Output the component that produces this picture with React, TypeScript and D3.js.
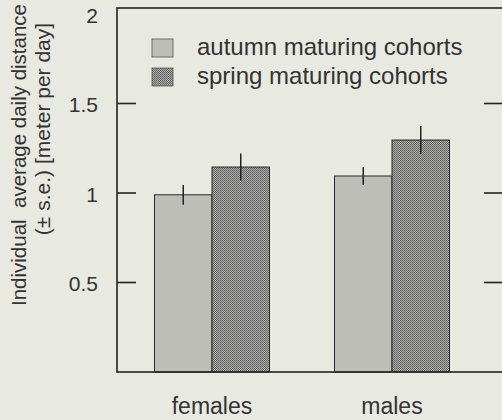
import React from "react";
import * as d3 from "d3";

const categories = ["females", "males"];
const seriesNames = ["autumn maturing cohorts", "spring maturing cohorts"];
const autumnMeans = [0.99, 1.095];
const autumnSE = [0.055, 0.05];
const springMeans = [1.145, 1.296];
const springSE = [0.075, 0.078];
const yTicks = [0.5, 1, 1.5];
const yTickLabels = ["0.5", "1", "1.5", "2"];
const yLabelValues = [0.5, 1, 1.5, 2];

const W = 502;
const H = 420;
const FONT = "'Liberation Sans', Arial, Helvetica, sans-serif";

export default function App() {
  const left = 117;
  const right = 503;
  const frameTop = 8;
  const y = d3.scaleLinear().domain([0, 2]).range([372, 14]);
  const x0 = d3.scaleBand<string>().domain(categories).range([122, 482]).padding(0);
  const x1 = d3
    .scaleBand<string>()
    .domain(seriesNames)
    .range([0, x0.bandwidth()])
    .paddingInner(0)
    .paddingOuter(0.565);
  const bottom = y(0);

  const series = [
    { name: seriesNames[0], means: autumnMeans, se: autumnSE, fill: "#bebeb8" },
    { name: seriesNames[1], means: springMeans, se: springSE, fill: "url(#checker)" },
  ];

  return (
    <svg
      width={W}
      height={H}
      style={{ position: "fixed", top: 0, left: 0, display: "block" }}
      fontFamily={FONT}
    >
      <defs>
        <pattern id="checker" width="2" height="2" patternUnits="userSpaceOnUse">
          <rect width="2" height="2" fill="#b0b0ac" />
          <rect width="1" height="1" fill="#5e5e5e" />
          <rect x="1" y="1" width="1" height="1" fill="#666" />
        </pattern>
      </defs>
      <rect width={W} height={H} fill="#e8e9e1" />

      {/* bars */}
      {series.map((s) =>
        categories.map((c, i) => {
          const bx = (x0(c) ?? 0) + (x1(s.name) ?? 0);
          const bw = x1.bandwidth();
          return (
            <g key={s.name + c}>
              <rect
                x={bx}
                y={y(s.means[i])}
                width={bw}
                height={bottom - y(s.means[i])}
                fill={s.fill}
                stroke="#2a2a2a"
                strokeWidth={1}
              />
              <line
                x1={bx + bw / 2}
                x2={bx + bw / 2}
                y1={y(s.means[i] - s.se[i])}
                y2={y(s.means[i] + s.se[i])}
                stroke="#222"
                strokeWidth={1.5}
              />
            </g>
          );
        })
      )}

      {/* frame */}
      <rect
        x={left}
        y={frameTop}
        width={right - left}
        height={bottom - frameTop}
        fill="none"
        stroke="#222"
        strokeWidth={1.6}
      />
      {yTicks.map((t) => (
        <g key={t}>
          <line x1={left} x2={left + 19} y1={y(t)} y2={y(t)} stroke="#222" strokeWidth={1.6} />
          <line x1={right - 19} x2={right} y1={y(t)} y2={y(t)} stroke="#222" strokeWidth={1.6} />
        </g>
      ))}

      {/* y tick labels */}
      {yLabelValues.map((v, i) => (
        <text
          key={v}
          x={98}
          y={y(v) + 3}
          textAnchor="end"
          dominantBaseline="middle"
          fontSize={21}
          fill="#333"
        >
          {yTickLabels[i]}
        </text>
      ))}

      {/* y title */}
      <text
        transform={`translate(26,155) rotate(-90)`}
        textAnchor="middle"
        fontSize={20.5}
        fill="#333"
        style={{ whiteSpace: "pre" }}
      >
        {"Individual  average daily distance"}
      </text>
      <text
        transform={`translate(50,129) rotate(-90)`}
        textAnchor="middle"
        fontSize={21}
        fill="#333"
      >
        {"(± s.e.) [meter per day]"}
      </text>

      {/* x category labels */}
      {categories.map((c) => (
        <text
          key={c}
          x={(x0(c) ?? 0) + x0.bandwidth() / 2}
          y={414}
          textAnchor="middle"
          fontSize={23}
          fill="#333"
        >
          {c}
        </text>
      ))}

      {/* legend */}
      {series.map((s, i) => (
        <g key={s.name} transform={`translate(152, ${39 + i * 29})`}>
          <rect width={21} height={18} fill={s.fill} stroke="#555" strokeWidth={0.8} />
          <text x={45} y={16} fontSize={24} fill="#333">
            {s.name}
          </text>
        </g>
      ))}
    </svg>
  );
}
